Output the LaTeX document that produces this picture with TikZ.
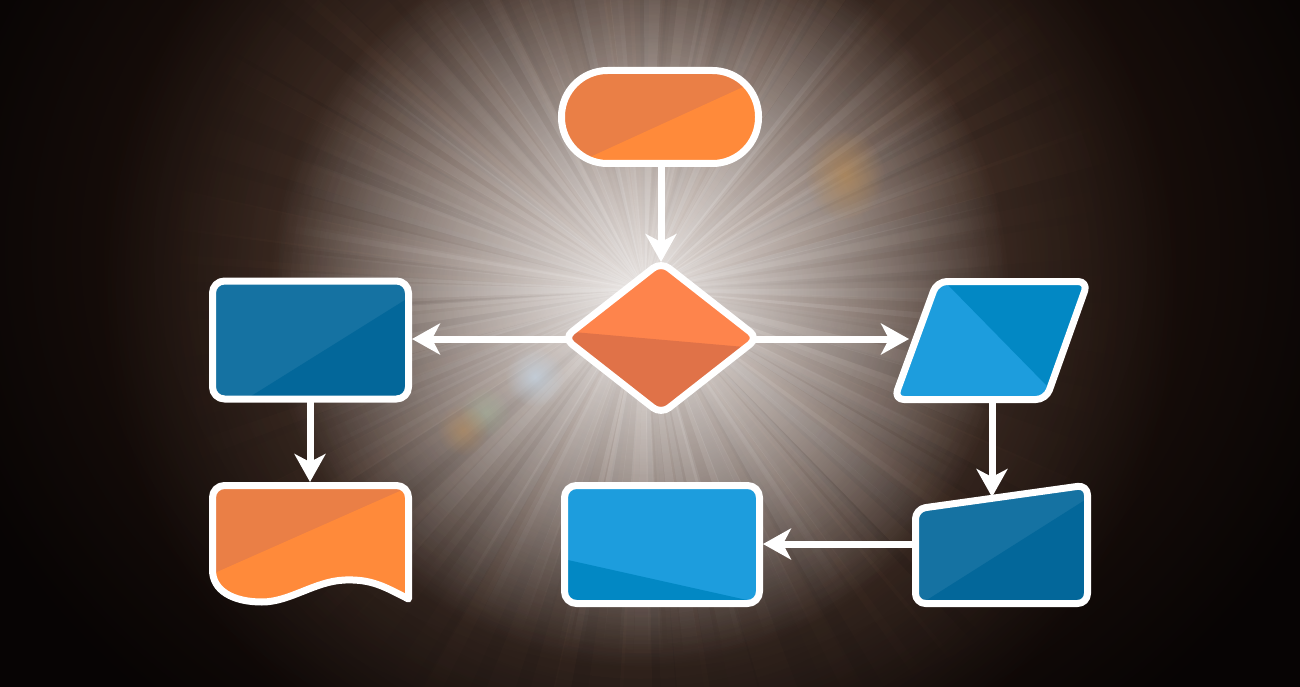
\documentclass[tikz,border=0pt]{standalone}
\usetikzlibrary{arrows.meta,fadings}
\tikzfading[name=glowfade, inner color=transparent!0, outer color=transparent!100]
\definecolor{bgdark}{HTML}{070404}
\definecolor{halo}{HTML}{3A2216}
\definecolor{midglow}{HTML}{9C8478}
\definecolor{warmray}{HTML}{8A6048}
\definecolor{orA}{HTML}{EA7F46}
\definecolor{orB}{HTML}{FF8A3A}
\definecolor{dmA}{HTML}{FE844C}
\definecolor{dmB}{HTML}{E07248}
\definecolor{dbA}{HTML}{1572A2}
\definecolor{dbB}{HTML}{03679A}
\definecolor{lbA}{HTML}{1D9DDD}
\definecolor{lbB}{HTML}{0288C4}
\definecolor{flareO}{HTML}{C8904A}
\definecolor{flareB}{HTML}{C8DDF0}
\definecolor{flareG}{HTML}{A8C8A0}
\begin{document}
\begin{tikzpicture}[x=1pt,y=-1pt,
  border/.style={draw=white, line width=7pt, line join=round},
  conn/.style={draw=white, line width=7pt, -{Stealth[length=28pt,width=31pt,inset=8pt]}},
  soft/.style={path fading=glowfade}
]
\useasboundingbox (0,0) rectangle (1300,687);
\fill[bgdark] (0,0) rectangle (1300,687);

% ---------- background glow ----------
\fill[halo, soft] (650,250) ellipse (740 and 620);
\fill[midglow, opacity=0.5, soft] (640,290) circle (540);
\begin{scope}[shift={(645,290)}]
  \pgfmathsetseed{31}
  \foreach \i in {0,...,79}{
    \pgfmathsetmacro{\aa}{\i*4.5+rnd*4.5}
    \pgfmathsetmacro{\ww}{1.0+rnd*2.0}
    \pgfmathsetmacro{\oo}{0.08+rnd*0.16}
    \pgfmathsetmacro{\ab}{\aa-\ww}
    \pgfmathsetmacro{\ac}{\aa+\ww}
    \fill[warmray, opacity=\oo, path fading=glowfade, fit fading=false,
          fading transform={shift={(645,290)}, scale=20}] (0,0) -- (\ab:560) -- (\ac:560) -- cycle;
  }
  \pgfmathsetseed{12}
  \foreach \i in {0,...,129}{
    \pgfmathsetmacro{\aa}{\i*2.77+rnd*2.77}
    \pgfmathsetmacro{\ww}{0.6+rnd*2.0}
    \pgfmathsetmacro{\oo}{0.05+rnd*0.15}
    \pgfmathsetmacro{\ab}{\aa-\ww}
    \pgfmathsetmacro{\ac}{\aa+\ww}
    \fill[white, opacity=\oo, path fading=glowfade, fit fading=false,
          fading transform={shift={(645,290)}, scale=15}] (0,0) -- (\ab:420) -- (\ac:420) -- cycle;
  }
\end{scope}
\fill[white, opacity=0.85, soft] (640,295) circle (370);
\fill[flareO, opacity=0.5, soft] (845,175) ellipse (40 and 46);
\fill[flareB, opacity=0.6, soft] (535,377) circle (30);
\fill[flareG, opacity=0.35, soft] (485,412) circle (26);
\fill[flareO, opacity=0.4, soft] (463,430) circle (26);

% ---------- connection points ----------
\coordinate (term-s) at (661,166);
\coordinate (dia-n) at (661,262);
\coordinate (dia-w) at (570,339);
\coordinate (dia-e) at (752,339);
\coordinate (lrect-e) at (412,339);
\coordinate (lrect-s) at (310,400);
\coordinate (doc-n) at (310,482);
\coordinate (para-w) at (909,339);
\coordinate (para-s) at (992,400);
\coordinate (man-n) at (992,497);
\coordinate (man-w) at (916,544);
\coordinate (bm-e) at (763,544);

% ---------- terminal ----------
\begin{scope}
  \clip[rounded corners=46] (561.5,70.5) rectangle (758.5,163.5);
  \fill[orA] (540,50) rectangle (780,190);
  \fill[orB] (540,179.9) -- (800,61) -- (800,200) -- (540,200) -- cycle;
\end{scope}
\draw[border, rounded corners=46] (561.5,70.5) rectangle (758.5,163.5);

% ---------- decision ----------
\begin{scope}
  \clip[rounded corners=10] (661,262) -- (758,338) -- (661,414) -- (564,338) -- cycle;
  \fill[dmA] (540,250) rectangle (780,420);
  \fill[dmB] (540,329.1) -- (780,350.1) -- (780,420) -- (540,420) -- cycle;
\end{scope}
\draw[border, rounded corners=10] (661,262) -- (758,338) -- (661,414) -- (564,338) -- cycle;

% ---------- process (left) ----------
\begin{scope}
  \clip[rounded corners=12] (212.5,281) rectangle (408.5,399);
  \fill[dbA] (200,270) rectangle (420,410);
  \fill[dbB] (200,428) -- (420,290.6) -- (420,430) -- (200,430) -- cycle;
\end{scope}
\draw[border, rounded corners=12] (212.5,281) rectangle (408.5,399);

% ---------- document ----------
\begin{scope}
  \clip (212.5,570) -- (212.5,497.5) arc[start angle=180, end angle=270, radius=12]
    -- (396.5,485.5) arc[start angle=270, end angle=360, radius=12]
    -- (408.5,599) .. controls (385,587) and (372,579) .. (345,580)
    .. controls (315,581) and (290,602) .. (262,602)
    .. controls (232,602) and (212.5,590) .. (212.5,570) -- cycle;
  \fill[orA] (200,470) rectangle (420,620);
  \fill[orB] (200,579.5) -- (420,482.1) -- (420,620) -- (200,620) -- cycle;
\end{scope}
\draw[border] (212.5,570) -- (212.5,497.5) arc[start angle=180, end angle=270, radius=12]
    -- (396.5,485.5) arc[start angle=270, end angle=360, radius=12]
    -- (408.5,599) .. controls (385,587) and (372,579) .. (345,580)
    .. controls (315,581) and (290,602) .. (262,602)
    .. controls (232,602) and (212.5,590) .. (212.5,570) -- cycle;

% ---------- data (parallelogram) ----------
\begin{scope}
  \clip[rounded corners=10] (937,281.5) -- (1088,281.5) -- (1046,399.5) -- (894,399.5) -- cycle;
  \fill[lbA] (880,270) rectangle (1110,410);
  \fill[lbB] (933.3,270) -- (1070.5,410) -- (1110,410) -- (1110,270) -- cycle;
\end{scope}
\draw[border, rounded corners=10] (937,281.5) -- (1088,281.5) -- (1046,399.5) -- (894,399.5) -- cycle;

% ---------- manual input ----------
\begin{scope}
  \clip[rounded corners=10] (915.5,509) -- (1087.5,485) -- (1087.5,603.5) -- (915.5,603.5) -- cycle;
  \fill[dbA] (900,470) rectangle (1100,620);
  \fill[dbB] (900,617) -- (1100,490.5) -- (1100,620) -- (900,620) -- cycle;
\end{scope}
\draw[border, rounded corners=10] (915.5,509) -- (1087.5,485) -- (1087.5,603.5) -- (915.5,603.5) -- cycle;

% ---------- process (bottom middle) ----------
\begin{scope}
  \clip[rounded corners=12] (564.5,485.5) rectangle (759.5,603.5);
  \fill[lbA] (550,470) rectangle (780,620);
  \fill[lbB] (550,556) -- (780,607.4) -- (780,620) -- (550,620) -- cycle;
\end{scope}
\draw[border, rounded corners=12] (564.5,485.5) rectangle (759.5,603.5);

% ---------- connectors ----------
\draw[conn] (term-s) -- (dia-n);
\draw[conn] (dia-w) -- (lrect-e);
\draw[conn] (dia-e) -- (para-w);
\draw[conn] (lrect-s) -- (doc-n);
\draw[conn] (para-s) -- (man-n);
\draw[conn] (man-w) -- (bm-e);
\end{tikzpicture}
\end{document}
